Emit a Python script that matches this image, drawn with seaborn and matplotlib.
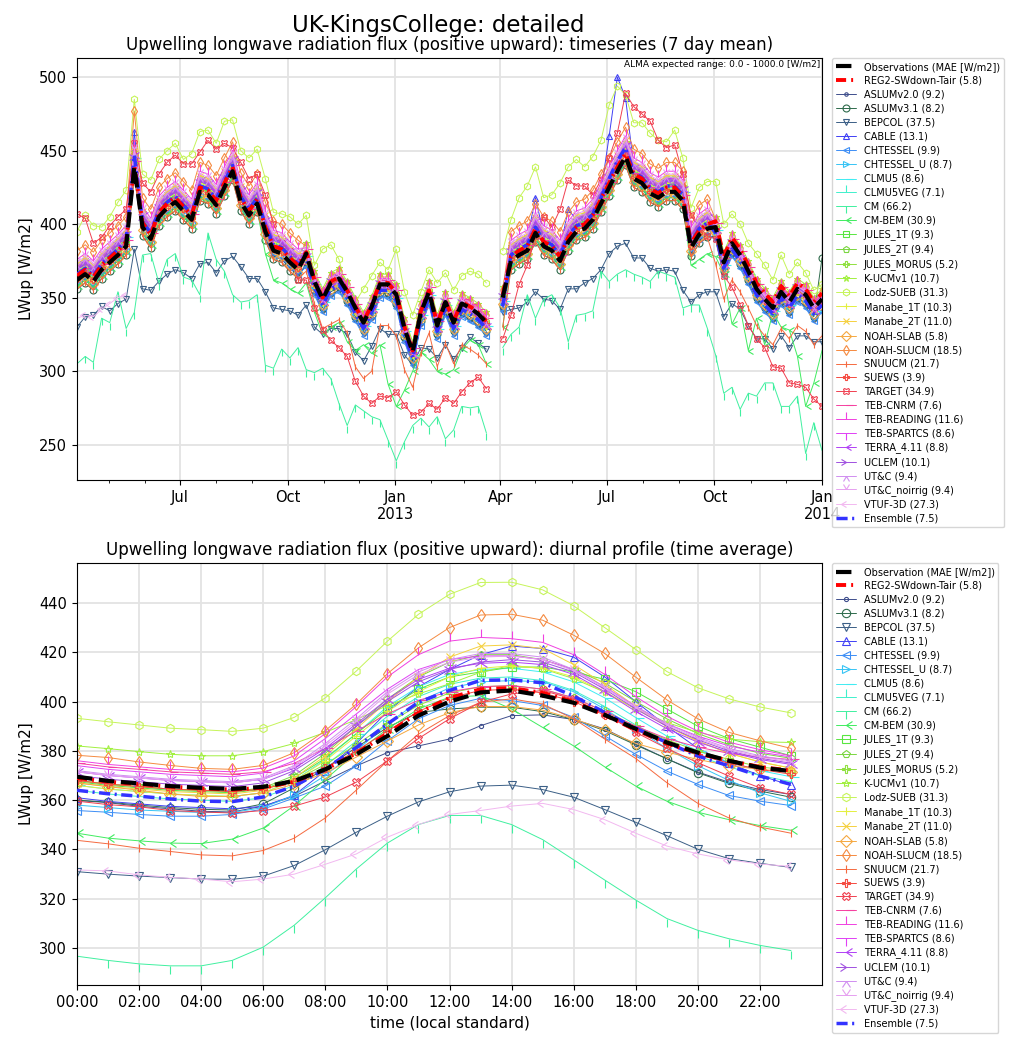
import numpy as np
import pandas as pd
import matplotlib
matplotlib.use("Agg")
import matplotlib.pyplot as plt
import matplotlib.dates as mdates
from matplotlib.ticker import FuncFormatter
import seaborn as sns

nan = np.nan

# weekly (7 day mean) timeseries, one value per week from 2012-04-04, LWup [W/m2]
week_start = "2012-04-04"
n_weeks = 92

ts_obs = [362, 366, 361, 369, 374, 379, 385, 439, 398, 390, 405, 411, 415, 409, 403, 422, 420, 413, 425, 436, 415, 406, 414, 395, 382, 380, 374, 369,
          380, 361, 349, 360, 363, 354, 343, 333, 344, 359, 359, 352, 329, 313, 340, 354, 331, 347, 333, 346, 343, 339, 333,
          nan,
          350, 375, 379, 382, 394, 385, 382, 375, 388, 395, 397, 403, 414, 425, 436, 446, 431, 428, 421, 418, 422, 422, 416, 384, 393, 397,
          398, 374, 387, 379, 368, 356, 349, 343, 354, 347, 356, 352, 343, 349]
ts_reg2 = [365, 369, 364, 372, 377, 382, 388, 440, 401, 393, 408, 414, 418, 412, 406, 425, 423, 416, 428, 439, 418, 409, 417, 398, 385, 383, 377, 372,
           381, 362, 350, 361, 364, 355, 344, 334, 345, 360, 360, 353, 330, 314, 341, 355, 332, 348, 334, 347, 344, 340, 334,
           nan,
           352, 378, 382, 385, 397, 388, 385, 378, 391, 398, 400, 406, 417, 428, 439, 448, 434, 431, 424, 421, 425, 425, 419, 387, 396, 400,
           402, 378, 391, 383, 372, 360, 353, 347, 358, 351, 360, 356, 347, 353]
ts_aslum20 = [358, 362, 357, 365, 370, 375, 381, 435, 394, 386, 401, 407, 411, 405, 399, 418, 416, 409, 421, 432, 411, 402, 410, 391, 378, 376, 370, 365,
              372, 353, 341, 352, 355, 346, 335, 325, 336, 351, 351, 344, 321, 305, 332, 346, 323, 339, 325, 338, 335, 331, 325,
              nan,
              342, 371, 375, 378, 390, 381, 378, 371, 384, 391, 393, 399, 410, 421, 432, 442, 427, 424, 417, 414, 418, 418, 412, 380, 389, 393,
              390, 366, 379, 371, 360, 348, 341, 335, 346, 339, 348, 344, 335, 341]
ts_aslum31 = [356, 360, 355, 363, 368, 373, 379, 433, 392, 384, 399, 405, 409, 403, 397, 416, 414, 407, 419, 430, 409, 400, 408, 389, 376, 374, 368, 363,
              374, 355, 343, 354, 357, 348, 337, 327, 338, 353, 353, 346, 323, 307, 334, 348, 325, 341, 327, 340, 337, 333, 327,
              nan,
              344, 369, 373, 376, 388, 379, 376, 369, 382, 389, 391, 397, 408, 419, 430, 440, 425, 422, 415, 412, 416, 416, 410, 378, 387, 391,
              392, 368, 381, 373, 362, 350, 343, 337, 348, 341, 350, 346, 337, 377]
ts_bepcol = [330, 337, 338, 344, 341, 346, 349, 383, 356, 355, 361, 366, 369, 367, 363, 373, 374, 367, 375, 378, 371, 363, 363, 354, 343, 342, 341, 338,
             345, 330, 325, 329, 329, 325, 313, 307, 317, 329, 325, 325, 311, 304, 316, 315, 309, 318, 308, 316, 323, 319, 315,
             nan,
             340, 342, 343, 347, 354, 349, 348, 342, 356, 356, 360, 363, 369, 380, 385, 387, 377, 377, 370, 368, 369, 368, 355, 347, 352, 354,
             354, 337, 346, 342, 331, 322, 322, 315, 324, 316, 324, 324, 320, 320]
ts_cable = [370, 374, 369, 377, 382, 387, 393, 463, 406, 398, 413, 419, 423, 417, 411, 430, 428, 421, 433, 444, 423, 414, 422, 403, 390, 388, 382, 377,
            378, 359, 347, 358, 361, 352, 341, 331, 342, 357, 357, 350, 327, 311, 338, 352, 329, 345, 331, 344, 341, 337, 331,
            nan,
            348, 383, 387, 390, 418, 393, 390, 383, 410, 403, 405, 411, 422, 460, 500, 486, 439, 436, 429, 426, 430, 430, 424, 392, 401, 405,
            396, 372, 385, 377, 366, 354, 347, 341, 352, 345, 354, 350, 341, 347]
ts_chtessel = [359, 363, 358, 366, 371, 376, 382, 436, 395, 387, 402, 408, 412, 406, 400, 419, 417, 410, 422, 433, 412, 403, 411, 392, 379, 377, 371, 366,
               371, 352, 340, 351, 354, 345, 334, 324, 335, 350, 350, 343, 320, 304, 331, 345, 322, 338, 324, 337, 334, 330, 324,
               nan,
               341, 372, 376, 379, 391, 382, 379, 372, 385, 392, 394, 400, 411, 422, 433, 443, 428, 425, 418, 415, 419, 419, 413, 381, 390, 394,
               389, 365, 378, 370, 359, 347, 340, 334, 345, 338, 347, 343, 334, 340]
ts_chtessel_u = [365, 369, 364, 372, 377, 382, 388, 442, 401, 393, 408, 414, 418, 412, 406, 425, 423, 416, 428, 439, 418, 409, 417, 398, 385, 383, 377, 372,
                 377, 358, 346, 357, 360, 351, 340, 330, 341, 356, 356, 349, 326, 310, 337, 351, 328, 344, 330, 343, 340, 336, 330,
                 nan,
                 347, 378, 382, 385, 397, 388, 385, 378, 391, 398, 400, 406, 417, 428, 439, 449, 434, 431, 424, 421, 425, 425, 419, 387, 396, 400,
                 395, 371, 384, 376, 365, 353, 346, 340, 351, 344, 353, 349, 340, 346]
ts_clmu5 = [368, 372, 367, 375, 380, 385, 391, 445, 404, 396, 411, 417, 421, 415, 409, 428, 426, 419, 431, 442, 421, 412, 420, 401, 388, 386, 380, 375,
            378, 359, 347, 358, 361, 352, 341, 331, 342, 357, 357, 350, 327, 311, 338, 352, 329, 345, 331, 344, 341, 337, 331,
            nan,
            348, 381, 385, 388, 400, 391, 388, 381, 394, 401, 403, 409, 420, 431, 442, 452, 437, 434, 427, 424, 428, 428, 422, 390, 399, 403,
            396, 372, 385, 377, 366, 354, 347, 341, 352, 345, 354, 350, 341, 347]
ts_clmu5veg = [366, 370, 365, 373, 378, 383, 389, 443, 402, 394, 409, 415, 419, 413, 407, 426, 424, 417, 429, 440, 419, 410, 418, 399, 386, 384, 378, 373,
               376, 357, 345, 356, 359, 350, 339, 329, 340, 355, 355, 348, 325, 309, 336, 350, 327, 343, 329, 342, 339, 335, 329,
               nan,
               346, 379, 383, 386, 398, 389, 386, 379, 392, 399, 401, 407, 418, 429, 440, 450, 435, 432, 425, 422, 426, 426, 420, 388, 397, 401,
               394, 370, 383, 375, 364, 352, 345, 339, 350, 343, 352, 348, 339, 345]
ts_cm = [305, 310, 306, 336, 333, 354, 329, 340, 379, 380, 360, 376, 380, 364, 362, 352, 394, 376, 368, 352, 347, 348, 352, 304, 302, 315, 309, 316,
         301, 299, 302, 295, 278, 263, 277, 273, 269, 267, 253, 239, 252, 263, 268, 262, 269, 254, 260, 276, 275, 276, 258,
         nan,
         316, 325, 330, 352, 336, 349, 352, 343, 320, 338, 339, 341, 368, 361, 366, 369, 366, 364, 361, 368, 366, 364, 343, 345, 345, 329,
         311, 285, 289, 274, 285, 283, 292, 292, 276, 276, 283, 244, 265, 246]
ts_cmbem = [358, 362, 357, 365, 370, 375, 381, 435, 394, 386, 401, 407, 411, 405, 399, 418, 416, 409, 421, 432, 411, 402, 410, 380, 362, 360, 356, 353,
            360, 340, 325, 330, 333, 320, 314, 318, 312, 318, 291, 276, 287, 300, 313, 308, 300, 298, 301, 315, 321, 318, 305,
            nan,
            330, 371, 375, 378, 390, 381, 378, 371, 384, 391, 393, 399, 410, 421, 432, 442, 427, 424, 417, 414, 418, 418, 412, 372, 376, 380,
            378, 366, 332, 343, 314, 336, 318, 340, 330, 328, 310, 276, 292, 314]
ts_jules1t = [367, 371, 366, 374, 379, 384, 390, 444, 403, 395, 410, 416, 420, 414, 408, 427, 425, 418, 430, 441, 420, 411, 419, 400, 387, 385, 379, 374,
              379, 360, 348, 359, 362, 353, 342, 332, 343, 358, 358, 351, 328, 312, 339, 353, 330, 346, 332, 345, 342, 338, 332,
              nan,
              349, 380, 384, 387, 399, 390, 387, 380, 393, 400, 402, 408, 419, 430, 441, 451, 436, 433, 426, 423, 427, 427, 421, 389, 398, 402,
              397, 373, 386, 378, 367, 355, 348, 342, 353, 346, 355, 351, 342, 348]
ts_jules2t = [371, 375, 370, 378, 383, 388, 394, 448, 407, 399, 414, 420, 424, 418, 412, 431, 429, 422, 434, 445, 424, 415, 423, 404, 391, 389, 383, 378,
              381, 362, 350, 361, 364, 355, 344, 334, 345, 360, 360, 353, 330, 314, 341, 355, 332, 348, 334, 347, 344, 340, 334,
              nan,
              351, 384, 388, 391, 403, 394, 391, 384, 397, 404, 406, 412, 423, 434, 445, 455, 440, 437, 430, 427, 431, 431, 425, 393, 402, 406,
              399, 375, 388, 380, 369, 357, 350, 344, 355, 348, 357, 353, 344, 350]
ts_julesmorus = [364, 368, 363, 371, 376, 381, 387, 441, 400, 392, 407, 413, 417, 411, 405, 424, 422, 415, 427, 438, 417, 408, 416, 397, 384, 382, 376, 371,
                 378, 359, 347, 358, 361, 352, 341, 331, 342, 357, 357, 350, 327, 311, 338, 352, 329, 345, 331, 344, 341, 337, 331,
                 nan,
                 348, 377, 381, 384, 396, 387, 384, 377, 390, 397, 399, 405, 416, 427, 438, 448, 433, 430, 423, 420, 424, 424, 418, 386, 395, 399,
                 396, 372, 385, 377, 366, 354, 347, 341, 352, 345, 354, 350, 341, 347]
ts_kucm = [372, 376, 371, 379, 384, 389, 395, 449, 408, 400, 415, 421, 425, 419, 413, 432, 430, 423, 435, 446, 425, 416, 424, 405, 392, 390, 384, 379,
           387, 368, 356, 367, 370, 361, 350, 340, 351, 366, 366, 359, 336, 320, 347, 361, 338, 354, 340, 353, 350, 346, 340,
           nan,
           357, 385, 389, 392, 404, 395, 392, 385, 398, 405, 407, 413, 424, 435, 446, 456, 441, 438, 431, 428, 432, 432, 426, 394, 403, 407,
           405, 381, 394, 386, 375, 363, 356, 350, 361, 354, 363, 359, 350, 356]
ts_lodz = [395, 406, 399, 398, 405, 415, 423, 485, 434, 430, 444, 450, 455, 444, 448, 463, 464, 455, 470, 471, 450, 445, 451, 431, 408, 407, 405, 400,
           406, 372, 383, 386, 376, 354, 347, 356, 365, 374, 369, 383, 354, 338, 354, 369, 360, 367, 355, 365, 368, 366, 360,
           nan,
           382, 403, 418, 426, 439, 418, 420, 428, 439, 444, 439, 446, 457, 481, 494, 488, 469, 469, 462, 457, 456, 464, 445, 411, 425, 429,
           429, 400, 407, 400, 387, 380, 372, 362, 379, 366, 374, 367, 355, 359]
ts_manabe1t = [368, 372, 367, 375, 380, 385, 391, 445, 404, 396, 411, 417, 421, 415, 409, 428, 426, 419, 431, 442, 421, 412, 420, 401, 388, 386, 380, 375,
               377, 358, 346, 357, 360, 351, 340, 330, 341, 356, 356, 349, 326, 310, 337, 351, 328, 344, 330, 343, 340, 336, 330,
               nan,
               347, 381, 385, 388, 400, 391, 388, 381, 394, 401, 403, 409, 420, 431, 442, 452, 437, 434, 427, 424, 428, 428, 422, 390, 399, 403,
               395, 371, 384, 376, 365, 353, 346, 340, 351, 344, 353, 349, 340, 346]
ts_manabe2t = [373, 377, 372, 380, 385, 390, 396, 450, 409, 401, 416, 422, 426, 420, 414, 433, 431, 424, 436, 447, 426, 417, 425, 406, 393, 391, 385, 380,
               380, 361, 349, 360, 363, 354, 343, 333, 344, 359, 359, 352, 329, 313, 340, 354, 331, 347, 333, 346, 343, 339, 333,
               nan,
               350, 386, 390, 393, 405, 396, 393, 386, 399, 406, 408, 414, 425, 436, 447, 457, 442, 439, 432, 429, 433, 433, 427, 395, 404, 408,
               398, 374, 387, 379, 368, 356, 349, 343, 354, 347, 356, 352, 343, 349]
ts_noahslab = [360, 364, 359, 367, 372, 377, 383, 437, 396, 388, 403, 409, 413, 407, 401, 420, 418, 411, 423, 434, 413, 404, 412, 393, 380, 378, 372, 367,
               376, 357, 345, 356, 359, 350, 339, 329, 340, 355, 355, 348, 325, 309, 336, 350, 327, 343, 329, 342, 339, 335, 329,
               nan,
               346, 373, 377, 380, 392, 383, 380, 373, 386, 393, 395, 401, 412, 423, 434, 444, 429, 426, 419, 416, 420, 420, 414, 382, 391, 395,
               394, 370, 383, 375, 364, 352, 345, 339, 350, 343, 352, 348, 339, 345]
ts_noahslucm = [382, 386, 381, 389, 394, 399, 405, 477, 418, 410, 425, 431, 435, 429, 423, 442, 440, 433, 445, 456, 435, 426, 434, 415, 402, 400, 394, 389,
                385, 366, 354, 365, 368, 359, 348, 338, 349, 364, 364, 357, 334, 318, 345, 359, 336, 352, 338, 351, 348, 344, 338,
                nan,
                355, 395, 399, 402, 414, 405, 402, 395, 408, 415, 417, 423, 434, 445, 456, 466, 451, 448, 441, 438, 442, 442, 436, 404, 413, 417,
                403, 379, 392, 384, 373, 361, 354, 348, 359, 352, 361, 357, 348, 354]
ts_snuucm = [356, 360, 355, 363, 368, 373, 379, 433, 392, 384, 399, 405, 409, 403, 397, 416, 414, 407, 419, 430, 409, 400, 408, 389, 376, 374, 368, 363,
             368, 346, 329, 332, 335, 326, 303, 295, 300, 331, 331, 324, 301, 289, 312, 326, 303, 319, 305, 318, 315, 311, 305,
             nan,
             330, 369, 373, 376, 388, 379, 376, 369, 382, 389, 391, 397, 408, 419, 430, 440, 425, 422, 415, 412, 416, 416, 410, 378, 387, 391,
             373, 349, 362, 354, 343, 331, 324, 318, 329, 322, 331, 327, 318, 324]
ts_suews = [363, 367, 362, 370, 375, 380, 386, 440, 399, 391, 406, 412, 416, 410, 404, 423, 421, 414, 426, 437, 416, 407, 415, 396, 383, 381, 375, 370,
            379, 360, 348, 359, 362, 353, 342, 332, 343, 358, 358, 351, 328, 312, 339, 353, 330, 346, 332, 345, 342, 338, 332,
            nan,
            349, 376, 380, 383, 395, 386, 383, 376, 389, 396, 398, 404, 415, 426, 437, 447, 432, 429, 422, 419, 423, 423, 417, 385, 394, 398,
            397, 373, 386, 378, 367, 355, 348, 342, 353, 346, 355, 351, 342, 348]
ts_target = [407, 404, 387, 391, 399, 405, 410, 455, 428, 422, 434, 442, 447, 441, 441, 449, 457, 451, 455, 452, 442, 431, 434, 420, 400, 387, 382, 362,
             362, 343, 328, 321, 316, 310, 293, 283, 278, 283, 282, 286, 277, 270, 272, 278, 274, 282, 278, 286, 292, 296, 288,
             nan,
             322, 338, 359, 372, 392, 405, 398, 410, 430, 426, 426, 420, 430, 445, 462, 489, 480, 475, 470, 457, 452, 454, 434, 406, 398, 392,
             390, 365, 357, 345, 331, 322, 316, 303, 302, 292, 291, 289, 281, 276]
ts_tebcnrm = [366, 370, 365, 373, 378, 383, 389, 443, 402, 394, 409, 415, 419, 413, 407, 426, 424, 417, 429, 440, 419, 410, 418, 399, 386, 384, 378, 373,
              383, 364, 352, 363, 366, 357, 346, 336, 347, 362, 362, 355, 332, 316, 343, 357, 334, 350, 336, 349, 346, 342, 336,
              nan,
              353, 379, 383, 386, 398, 389, 386, 379, 392, 399, 401, 407, 418, 429, 440, 450, 435, 432, 425, 422, 426, 426, 420, 388, 397, 401,
              401, 377, 390, 382, 371, 359, 352, 346, 357, 350, 359, 355, 346, 352]
ts_tebreading = [376, 380, 375, 383, 388, 393, 399, 453, 412, 404, 419, 425, 429, 423, 417, 436, 434, 427, 439, 450, 429, 420, 428, 409, 396, 394, 388, 383,
                 384, 365, 353, 364, 367, 358, 347, 337, 348, 363, 363, 356, 333, 317, 344, 358, 335, 351, 337, 350, 347, 343, 337,
                 nan,
                 354, 389, 393, 396, 408, 399, 396, 389, 402, 409, 411, 417, 428, 439, 450, 460, 445, 442, 435, 432, 436, 436, 430, 398, 407, 411,
                 402, 378, 391, 383, 372, 360, 353, 347, 358, 351, 360, 356, 347, 353]
ts_tebspartcs = [371, 375, 370, 378, 383, 388, 394, 448, 407, 399, 414, 420, 424, 418, 412, 431, 429, 422, 434, 445, 424, 415, 423, 404, 391, 389, 383, 378,
                 382, 363, 351, 362, 365, 356, 345, 335, 346, 361, 361, 354, 331, 315, 342, 356, 333, 349, 335, 348, 345, 341, 335,
                 nan,
                 352, 384, 388, 391, 403, 394, 391, 384, 397, 404, 406, 412, 423, 434, 445, 455, 440, 437, 430, 427, 431, 431, 425, 393, 402, 406,
                 400, 376, 389, 381, 370, 358, 351, 345, 356, 349, 358, 354, 345, 351]
ts_terra = [370, 374, 369, 377, 382, 387, 393, 447, 406, 398, 413, 419, 423, 417, 411, 430, 428, 421, 433, 444, 423, 414, 422, 403, 390, 388, 382, 377,
            378, 359, 347, 358, 361, 352, 341, 331, 342, 357, 357, 350, 327, 311, 338, 352, 329, 345, 331, 344, 341, 337, 331,
            nan,
            348, 383, 387, 390, 402, 393, 390, 383, 396, 403, 405, 411, 422, 433, 444, 454, 439, 436, 429, 426, 430, 430, 424, 392, 401, 405,
            396, 372, 385, 377, 366, 354, 347, 341, 352, 345, 354, 350, 341, 347]
ts_uclem = [369, 373, 368, 376, 381, 386, 392, 446, 405, 397, 412, 418, 422, 416, 410, 429, 427, 420, 432, 443, 422, 413, 421, 402, 389, 387, 381, 376,
            381, 362, 350, 361, 364, 355, 344, 334, 345, 360, 360, 353, 330, 314, 341, 355, 332, 348, 334, 347, 344, 340, 334,
            nan,
            351, 382, 386, 389, 401, 392, 389, 382, 395, 402, 404, 410, 421, 432, 443, 453, 438, 435, 428, 425, 429, 429, 423, 391, 400, 404,
            399, 375, 388, 380, 369, 357, 350, 344, 355, 348, 357, 353, 344, 350]
ts_utc = [372, 376, 371, 379, 384, 389, 395, 449, 408, 400, 415, 421, 425, 419, 413, 432, 430, 423, 435, 446, 425, 416, 424, 405, 392, 390, 384, 379,
          380, 361, 349, 360, 363, 354, 343, 333, 344, 359, 359, 352, 329, 313, 340, 354, 331, 347, 333, 346, 343, 339, 333,
          nan,
          350, 385, 389, 392, 404, 395, 392, 385, 398, 405, 407, 413, 424, 435, 446, 456, 441, 438, 431, 428, 432, 432, 426, 394, 403, 407,
          398, 374, 387, 379, 368, 356, 349, 343, 354, 347, 356, 352, 343, 349]
ts_utc_noirrig = [374, 378, 373, 381, 386, 391, 397, 451, 410, 402, 417, 423, 427, 421, 415, 434, 432, 425, 437, 448, 427, 418, 426, 407, 394, 392, 386, 381,
                  382, 363, 351, 362, 365, 356, 345, 335, 346, 361, 361, 354, 331, 315, 342, 356, 333, 349, 335, 348, 345, 341, 335,
                  nan,
                  352, 387, 391, 394, 406, 397, 394, 387, 400, 407, 409, 415, 426, 437, 448, 458, 443, 440, 433, 430, 434, 434, 428, 396, 405, 409,
                  400, 376, 389, 381, 370, 358, 351, 345, 356, 349, 358, 354, 345, 351]
ts_vtuf = [336, 338, 337, 342, 346, 350, 352] + [nan] * 85
ts_ens = [366, 370, 365, 373, 378, 383, 389, 447, 402, 394, 409, 415, 419, 413, 407, 426, 424, 417, 429, 440, 419, 410, 418, 399, 386, 384, 378, 373,
          376, 357, 345, 356, 359, 350, 339, 329, 340, 355, 355, 348, 325, 309, 336, 350, 327, 343, 329, 342, 339, 335, 329,
          nan,
          344, 379, 383, 386, 398, 389, 386, 379, 392, 399, 401, 407, 418, 431, 443, 452, 435, 432, 425, 422, 426, 426, 420, 388, 397, 401,
          394, 370, 383, 375, 364, 352, 345, 339, 350, 343, 352, 348, 339, 345]

# diurnal profile (time average), hours 0..23
hours = list(range(24))
dp_obs = [369.5, 367.8, 366.8, 365.7, 365.0, 364.6, 365.4, 367.8, 372.5, 378.6, 386.0, 394.3, 400.0, 403.7, 404.5, 402.4, 399.5, 394.6, 388.9, 383.4, 379.3, 376.0, 373.2, 371.8]
dp_reg2 = [369.0, 367.5, 366.5, 365.5, 364.8, 364.3, 365.0, 367.5, 372.5, 379.0, 387.0, 395.5, 401.5, 405.0, 405.5, 403.5, 400.0, 394.5, 388.5, 383.0, 379.0, 376.0, 373.5, 372.0]
dp_aslum20 = [359.9, 359.0, 357.5, 356.5, 355.5, 355.2, 357.6, 361.6, 367.8, 373.9, 379.3, 382.0, 384.8, 390.2, 394.3, 394.6, 392.7, 388.9, 382.7, 376.8, 371.4, 367.3, 364.3, 362.3]
dp_aslum31 = [360.0, 359.2, 358.0, 357.0, 356.3, 356.0, 358.5, 365.0, 373.0, 381.4, 389.5, 395.6, 397.0, 397.7, 397.7, 395.9, 392.7, 388.2, 382.4, 376.8, 371.1, 366.8, 363.7, 361.2]
dp_bepcol = [331.0, 330.0, 329.2, 328.6, 328.0, 327.9, 329.2, 333.5, 339.9, 347.0, 353.5, 359.3, 363.4, 365.7, 366.1, 364.3, 361.2, 356.2, 351.0, 345.6, 340.1, 336.3, 334.4, 332.7]
dp_cable = [361.0, 359.5, 358.5, 357.5, 357.0, 356.5, 357.5, 362.0, 372.0, 383.0, 396.0, 406.0, 413.0, 419.0, 422.5, 421.5, 418.0, 410.0, 400.0, 390.0, 381.0, 375.0, 370.0, 366.0]
dp_chtessel = [355.8, 355.1, 354.2, 353.5, 353.5, 354.2, 356.4, 360.9, 365.7, 373.9, 384.1, 393.0, 398.4, 401.3, 400.4, 398.4, 393.6, 386.1, 378.6, 371.8, 366.4, 361.9, 359.6, 357.8]
dp_chtessel_u = [358.0, 357.0, 356.0, 355.5, 355.0, 355.0, 357.0, 362.0, 370.0, 380.0, 391.0, 400.0, 405.5, 408.0, 408.5, 408.0, 404.0, 397.0, 389.0, 381.0, 374.0, 368.0, 363.0, 359.5]
dp_clmu5 = [366.0, 364.5, 363.5, 362.5, 362.0, 361.5, 363.0, 368.0, 376.5, 387.0, 398.0, 406.0, 411.0, 413.0, 413.5, 412.0, 408.0, 401.5, 393.5, 386.0, 380.0, 375.5, 372.0, 369.5]
dp_clmu5veg = [364.0, 362.5, 361.5, 360.5, 360.0, 359.5, 361.0, 366.0, 374.0, 384.0, 394.0, 402.0, 407.0, 409.5, 410.0, 408.5, 404.5, 398.0, 390.5, 383.5, 378.0, 373.5, 370.0, 367.5]
dp_cm = [296.7, 295.0, 293.6, 292.8, 292.8, 295.0, 300.4, 309.3, 320.4, 332.1, 342.6, 350.1, 353.8, 353.8, 350.1, 344.0, 335.8, 327.6, 319.5, 312.0, 307.2, 303.8, 301.1, 299.0]
dp_cmbem = [346.6, 344.6, 343.5, 342.6, 342.4, 344.2, 348.7, 357.8, 368.4, 379.3, 388.9, 397.0, 401.8, 402.4, 397.0, 389.5, 382.0, 373.5, 365.7, 359.6, 355.1, 352.1, 349.7, 347.8]
dp_jules1t = [367.5, 366.0, 365.0, 364.0, 363.5, 363.0, 364.5, 369.0, 377.0, 387.0, 397.0, 405.0, 410.0, 412.0, 414.0, 414.0, 412.0, 409.0, 404.0, 397.0, 390.0, 385.0, 381.5, 378.0]
dp_jules2t = [368.0, 366.5, 365.5, 364.5, 364.0, 363.5, 365.0, 370.0, 379.0, 390.0, 401.0, 410.0, 416.0, 419.0, 419.0, 417.0, 413.0, 407.5, 400.0, 393.0, 387.0, 382.5, 379.0, 377.0]
dp_julesmorus = [368.0, 366.5, 365.5, 364.5, 364.0, 363.5, 364.5, 368.0, 374.5, 382.5, 391.0, 398.5, 403.5, 406.0, 406.5, 405.0, 401.5, 396.0, 390.0, 384.5, 380.0, 376.5, 373.5, 372.0]
dp_kucm = [382.0, 380.9, 379.7, 378.6, 378.0, 378.0, 379.7, 383.0, 387.5, 392.7, 398.4, 403.1, 407.2, 411.9, 414.7, 413.3, 409.3, 403.8, 397.0, 391.5, 387.5, 384.8, 383.7, 383.4]
dp_lodz = [393.2, 391.8, 390.5, 389.2, 388.6, 387.9, 389.2, 393.6, 401.5, 412.4, 424.5, 435.4, 443.5, 448.3, 448.4, 445.3, 438.8, 430.0, 421.1, 412.2, 405.6, 401.1, 397.8, 395.4]
dp_manabe1t = [366.0, 364.5, 363.5, 362.5, 362.0, 361.5, 363.0, 368.0, 376.0, 386.0, 396.0, 404.0, 410.0, 413.5, 414.5, 413.5, 410.0, 404.0, 397.0, 390.0, 384.0, 379.0, 375.5, 373.0]
dp_manabe2t = [367.0, 365.5, 364.5, 363.5, 363.0, 362.5, 364.0, 369.0, 378.0, 389.0, 400.0, 410.0, 418.0, 422.5, 423.0, 421.5, 415.0, 407.0, 398.0, 390.0, 384.0, 379.0, 375.5, 373.0]
dp_noahslab = [367.0, 365.5, 364.0, 362.5, 361.5, 361.5, 363.0, 366.5, 371.0, 377.5, 384.0, 390.5, 395.5, 398.0, 398.0, 396.5, 393.0, 388.5, 383.0, 379.5, 376.5, 374.0, 372.5, 371.5]
dp_noahslucm = [378.2, 377.3, 375.5, 374.1, 372.9, 372.5, 374.1, 379.3, 388.2, 399.0, 411.3, 421.8, 430.0, 435.1, 435.4, 433.0, 426.9, 419.5, 409.9, 400.7, 393.0, 387.5, 384.1, 381.0]
dp_snuucm = [343.7, 342.3, 340.5, 339.2, 337.8, 337.4, 339.6, 344.6, 352.8, 364.1, 375.9, 386.8, 394.3, 399.7, 401.1, 399.0, 393.0, 384.8, 376.9, 367.1, 358.7, 352.8, 349.1, 346.6]
dp_suews = [368.0, 366.5, 365.5, 364.5, 364.0, 363.5, 364.5, 367.5, 373.0, 380.0, 388.0, 396.0, 401.5, 404.5, 405.0, 403.5, 400.0, 394.5, 388.5, 383.0, 378.5, 375.0, 372.5, 370.5]
dp_target = [359.6, 358.2, 357.3, 355.8, 355.2, 354.8, 355.8, 357.6, 361.3, 367.3, 375.9, 385.0, 393.0, 399.7, 403.1, 404.5, 401.0, 395.0, 387.5, 381.0, 375.2, 369.8, 365.0, 362.3]
dp_tebcnrm = [375.0, 373.5, 372.5, 371.5, 371.0, 370.5, 371.5, 375.0, 381.0, 388.0, 395.0, 400.5, 404.0, 406.0, 406.5, 405.0, 401.5, 396.0, 390.0, 385.0, 381.5, 379.0, 377.5, 376.5]
dp_tebreading = [376.0, 374.5, 373.5, 372.5, 372.0, 371.5, 373.0, 378.0, 387.0, 398.0, 410.0, 419.0, 424.5, 426.0, 425.5, 424.0, 419.0, 411.0, 402.0, 394.0, 388.0, 383.5, 380.5, 378.0]
dp_tebspartcs = [374.0, 372.5, 371.5, 370.5, 370.0, 369.5, 371.0, 376.0, 385.0, 395.0, 405.0, 413.0, 417.0, 418.5, 418.5, 417.0, 413.0, 406.0, 398.0, 391.0, 386.0, 382.0, 379.5, 377.5]
dp_terra = [371.5, 370.0, 369.0, 368.0, 367.5, 367.0, 368.5, 373.0, 381.0, 391.0, 401.0, 409.0, 413.5, 415.5, 416.0, 415.0, 411.0, 404.0, 396.0, 389.0, 383.5, 379.5, 376.5, 374.5]
dp_uclem = [370.0, 368.5, 367.5, 366.5, 366.0, 365.5, 367.0, 372.0, 380.0, 390.0, 400.0, 408.0, 413.0, 416.0, 417.0, 416.0, 412.0, 405.0, 397.0, 390.0, 384.5, 380.0, 377.0, 375.0]
dp_utc = [372.0, 370.5, 369.5, 368.5, 368.0, 367.5, 369.0, 374.0, 383.0, 393.0, 404.0, 412.0, 417.0, 419.5, 419.5, 418.0, 413.0, 406.0, 398.0, 391.0, 385.5, 381.0, 378.0, 376.0]
dp_utc_noirrig = [371.5, 370.0, 369.0, 368.0, 367.5, 367.0, 368.5, 373.5, 382.0, 392.0, 403.0, 411.0, 416.0, 418.0, 418.5, 417.0, 412.5, 405.5, 397.5, 390.5, 385.0, 380.5, 377.5, 375.5]
dp_vtuf = [331.7, 331.3, 329.7, 328.7, 328.0, 326.9, 328.0, 330.0, 334.0, 338.2, 345.0, 350.1, 354.2, 355.8, 357.6, 358.7, 356.2, 352.1, 346.6, 341.4, 338.2, 335.8, 334.1, 333.1]
dp_ens = [364.0, 362.6, 361.6, 360.5, 359.6, 359.4, 361.3, 365.7, 372.6, 381.4, 390.9, 399.7, 404.5, 408.6, 408.8, 407.6, 402.2, 395.6, 389.2, 383.4, 377.9, 373.9, 369.8, 366.4]

models = ["ASLUMv2.0", "ASLUMv3.1", "BEPCOL", "CABLE", "CHTESSEL", "CHTESSEL_U", "CLMU5", "CLMU5VEG",
          "CM", "CM-BEM", "JULES_1T", "JULES_2T", "JULES_MORUS", "K-UCMv1", "Lodz-SUEB", "Manabe_1T",
          "Manabe_2T", "NOAH-SLAB", "NOAH-SLUCM", "SNUUCM", "SUEWS", "TARGET", "TEB-CNRM", "TEB-READING",
          "TEB-SPARTCS", "TERRA_4.11", "UCLEM", "UT&C", "UT&C_noirrig", "VTUF-3D"]
model_mae = [9.2, 8.2, 37.5, 13.1, 9.9, 8.7, 8.6, 7.1, 66.2, 30.9, 9.3, 9.4, 5.2, 10.7, 31.3, 10.3,
             11.0, 5.8, 18.5, 21.7, 3.9, 34.9, 7.6, 11.6, 8.6, 8.8, 10.1, 9.4, 9.4, 27.3]
reg2_mae = 5.8
ens_mae = 7.5
model_colors = ["#3f4e8c", "#2e6b4c", "#3b5f86", "#4040f5", "#3d8ef5", "#36c4f5", "#40ecf2", "#40f0cc",
                "#40f0a0", "#40ec60", "#58e640", "#7ad640", "#90e040", "#a2f040", "#c6f45a", "#e4ef40",
                "#f5d040", "#f5a840", "#f58a40", "#f56a40", "#f54a40", "#f04050", "#f540a0", "#f040e0",
                "#e040f5", "#b040f5", "#a050e0", "#d08ef0", "#e6a0f0", "#f2b8f0"]
model_markers = [".", "o", "v", "^", "<", ">", 1, 2, 3, 4, "s", "p", "P", "*", "h", "+",
                 "x", "D", "d", "|", "P", "X", 1, 2, 3, 4, 5, 6, 7, 8]

ts_models = [ts_aslum20, ts_aslum31, ts_bepcol, ts_cable, ts_chtessel, ts_chtessel_u, ts_clmu5, ts_clmu5veg,
             ts_cm, ts_cmbem, ts_jules1t, ts_jules2t, ts_julesmorus, ts_kucm, ts_lodz, ts_manabe1t,
             ts_manabe2t, ts_noahslab, ts_noahslucm, ts_snuucm, ts_suews, ts_target, ts_tebcnrm, ts_tebreading,
             ts_tebspartcs, ts_terra, ts_uclem, ts_utc, ts_utc_noirrig, ts_vtuf]
dp_models = [dp_aslum20, dp_aslum31, dp_bepcol, dp_cable, dp_chtessel, dp_chtessel_u, dp_clmu5, dp_clmu5veg,
             dp_cm, dp_cmbem, dp_jules1t, dp_jules2t, dp_julesmorus, dp_kucm, dp_lodz, dp_manabe1t,
             dp_manabe2t, dp_noahslab, dp_noahslucm, dp_snuucm, dp_suews, dp_target, dp_tebcnrm, dp_tebreading,
             dp_tebspartcs, dp_terra, dp_uclem, dp_utc, dp_utc_noirrig, dp_vtuf]

sns.set_style("ticks", {"axes.edgecolor": "black", "xtick.color": "black", "ytick.color": "black",
                        "text.color": "black", "axes.labelcolor": "black"})
plt.rcParams["font.family"] = ["DejaVu Sans"]
plt.rcParams["xtick.labelsize"] = 10.5
plt.rcParams["ytick.labelsize"] = 10.5
plt.rcParams["axes.labelsize"] = 11
plt.rcParams["axes.titlesize"] = 12

dates = pd.date_range(week_start, periods=n_weeks, freq="7D")


def draw(ax, x, y, color, marker=None, lw=0.7, ms=5, ls="-", z=2):
    df = pd.DataFrame({"x": x, "y": y})
    df["seg"] = df["y"].isna().cumsum()
    df = df.dropna()
    sns.lineplot(data=df, x="x", y="y", units="seg", estimator=None, ax=ax, legend=False,
                 color=color, marker=marker, markersize=ms, linewidth=lw, linestyle=ls,
                 markerfacecolor="none", markeredgecolor=color, markeredgewidth=0.8, zorder=z)
    return ax.lines[-1]


def panel(ax, x, obs, reg2, ens, series, ms, obs_name):
    handles = []
    for vals, c, m in zip(series, model_colors, model_markers):
        handles.append(draw(ax, x, vals, c, m, lw=0.7, ms=ms))
    h_ens = draw(ax, x, ens, "#3333ff", None, lw=2.5, ls=(0, (3.2, 1.3, 0.6, 1.3)), z=3)
    h_reg = draw(ax, x, reg2, "#ff0000", None, lw=2.8, ls=(0, (2.6, 1.3, 0.5, 1.3)), z=4)
    h_obs = draw(ax, x, obs, "black", None, lw=3, ls="--", z=5)
    labels = ([f"{obs_name} (MAE [W/m2])", f"REG2-SWdown-Tair ({reg2_mae:.1f})"]
              + [f"{n} ({v:.1f})" for n, v in zip(models, model_mae)]
              + [f"Ensemble ({ens_mae:.1f})"])
    ax.legend([h_obs, h_reg] + handles + [h_ens], labels, loc="upper left",
              bbox_to_anchor=(1.014, 1.0), borderaxespad=0, fontsize=7, labelspacing=0.4)
    ax.grid(True, color="#e3e3e3", linewidth=1.3)
    ax.set_axisbelow(True)
    ax.set_ylabel("LWup [W/m2]")


fig = plt.figure(figsize=(10.2, 10.45), dpi=100)
ax1 = fig.add_axes([0.0755, 0.5407, 0.7304, 0.4038])
ax2 = fig.add_axes([0.0755, 0.0574, 0.7304, 0.4038])

# timeseries
panel(ax1, dates, ts_obs, ts_reg2, ts_ens, ts_models, 5, "Observations")
ax1.set_xlim(dates[0], dates[-1])
ax1.xaxis.set_major_locator(mdates.MonthLocator(bymonth=[1, 4, 7, 10]))
ax1.xaxis.set_minor_locator(mdates.MonthLocator())


def month_label(x, pos):
    d = mdates.num2date(x)
    return d.strftime("%b") + (f"\n{d.year}" if d.month == 1 else "")


ax1.xaxis.set_major_formatter(FuncFormatter(month_label))
ax1.set_xlabel("")
ax1.set_title("Upwelling longwave radiation flux (positive upward): timeseries (7 day mean)")
ax1.text(0.997, 0.996, "ALMA expected range: 0.0 - 1000.0 [W/m2]", transform=ax1.transAxes,
         ha="right", va="top", fontsize=6.5)

# diurnal profile
panel(ax2, hours, dp_obs, dp_reg2, dp_ens, dp_models, 6, "Observation")
ax2.set_xlim(0, 24)
ax2.set_xticks(range(0, 24, 2))
ax2.set_xticklabels([f"{h:02d}:00" for h in range(0, 24, 2)])
ax2.set_xlabel("time (local standard)")
ax2.set_title("Upwelling longwave radiation flux (positive upward): diurnal profile (time average)")

fig.suptitle("UK-KingsCollege: detailed", fontsize=16.5, x=0.43, y=0.987)
fig.savefig("out.png", dpi=100)
